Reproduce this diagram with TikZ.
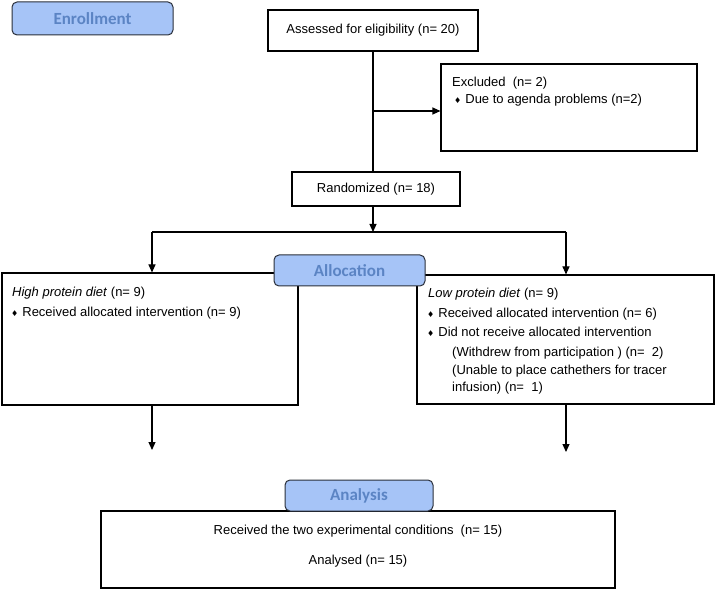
\documentclass[tikz,border=0pt]{standalone}
\usepackage{fontspec}
\setmainfont{Liberation Sans}
\newfontfamily\calibri{Carlito}
\newfontfamily\dejavu{DejaVu Sans}
\usetikzlibrary{arrows.meta}
\definecolor{stagefill}{HTML}{A6C4F7}
\definecolor{stagetext}{HTML}{5B84C4}
\definecolor{stageline}{HTML}{2A2F3A}
\newcommand{\bul}{{\dejavu\fontsize{8}{8}\selectfont ♦}\hspace{4pt}}
\tikzset{
  x=1pt, y=-1pt,
  box/.style={draw=black, line width=1.1pt, fill=white, inner sep=0pt},
  stage/.style={draw=stageline, line width=1pt, fill=stagefill, rounded corners=5pt,
    inner sep=0pt, text=stagetext, font=\calibri\bfseries\fontsize{17}{20}\selectfont},
  txt/.style={inner sep=0pt, font=\fontsize{13}{19.5}\selectfont},
  ltxt/.style={txt, anchor=north west, align=left},
  line/.style={line width=1.1pt, black},
  arr/.style={line, -{Triangle[length=8pt,width=7pt]}},
}
\begin{document}
\begin{tikzpicture}
\useasboundingbox (0,0) rectangle (716,591);
% boxes
\node[box, minimum width=210, minimum height=41] (assess) at (373,30.5) {};
\node[txt] (assesst) at (assess.center) {Assessed for eligibility (n= 20)};
\node[box, minimum width=256, minimum height=87] (excl) at (569,107.5) {};
\node[ltxt] (exclt) at (452,77) {Excluded\ \ (n= 2)\\[-3pt]\hspace{2pt}\bul Due to agenda problems (n=2)};
\node[box, minimum width=168, minimum height=34] (rand) at (376,189) {};
\node[txt] (randt) at (rand.center) {Randomized (n= 18)};
\node[box, minimum width=296, minimum height=132] (high) at (150,339) {};
\node[ltxt] (hight) at (12,287) {\textit{High protein diet} (n= 9)\\\hspace{-1pt}\bul Received allocated intervention (n= 9)};
\node[box, minimum width=297, minimum height=129] (low) at (565.5,339.5) {};
\node[ltxt] (lowt) at (428,288) {\textit{Low protein diet} (n= 9)\\
\hspace{-1pt}\bul Received allocated intervention (n= 6)\\
\hspace{-1pt}\bul Did not receive allocated intervention\\
\hspace{24pt}(Withdrew from participation ) (n=\ \ 2)\\[-1.5pt]
\hspace{24pt}(Unable to place cathethers for tracer\\[-2.5pt]
\hspace{24pt}infusion) (n=\ \ 1)};
\node[box, minimum width=514, minimum height=77] (anal) at (358,549.5) {};
\node[txt] (analt1) at (358,531) {Received the two experimental conditions\ \ (n= 15)};
\node[txt] (analt2) at (358,561) {Analysed (n= 15)};
% stage labels
\node[stage, minimum width=161, minimum height=33] (enrol) at (92.5,18.5) {Enrollment};
\node[stage, minimum width=151, minimum height=31] (alloc) at (349.5,270.5) {Allocation};
\node[stage, minimum width=148, minimum height=31] (analy) at (359,495.5) {Analysis};
% connectors
\coordinate (ex) at (assess.south |- 0,111);
\coordinate (rs) at (assess.south |- rand.south);
\coordinate (split) at (373,232);
\coordinate (sl) at (152,232);
\coordinate (sr) at (566,232);
\coordinate (hl) at (152,450);
\coordinate (lr) at (566,452);
\draw[line] (assess.south) -- (assess.south |- rand.north);
\draw[arr] (ex) -- (excl.west |- ex);
\draw[arr] (rs) -- (split);
\draw[line] (sl) -- (sr);
\draw[arr] (sl) -- (sl |- high.north);
\draw[arr] (sr) -- (sr |- low.north);
\draw[arr] (sl |- high.south) -- (hl);
\draw[arr] (sr |- low.south) -- (lr);
\end{tikzpicture}
\end{document}
